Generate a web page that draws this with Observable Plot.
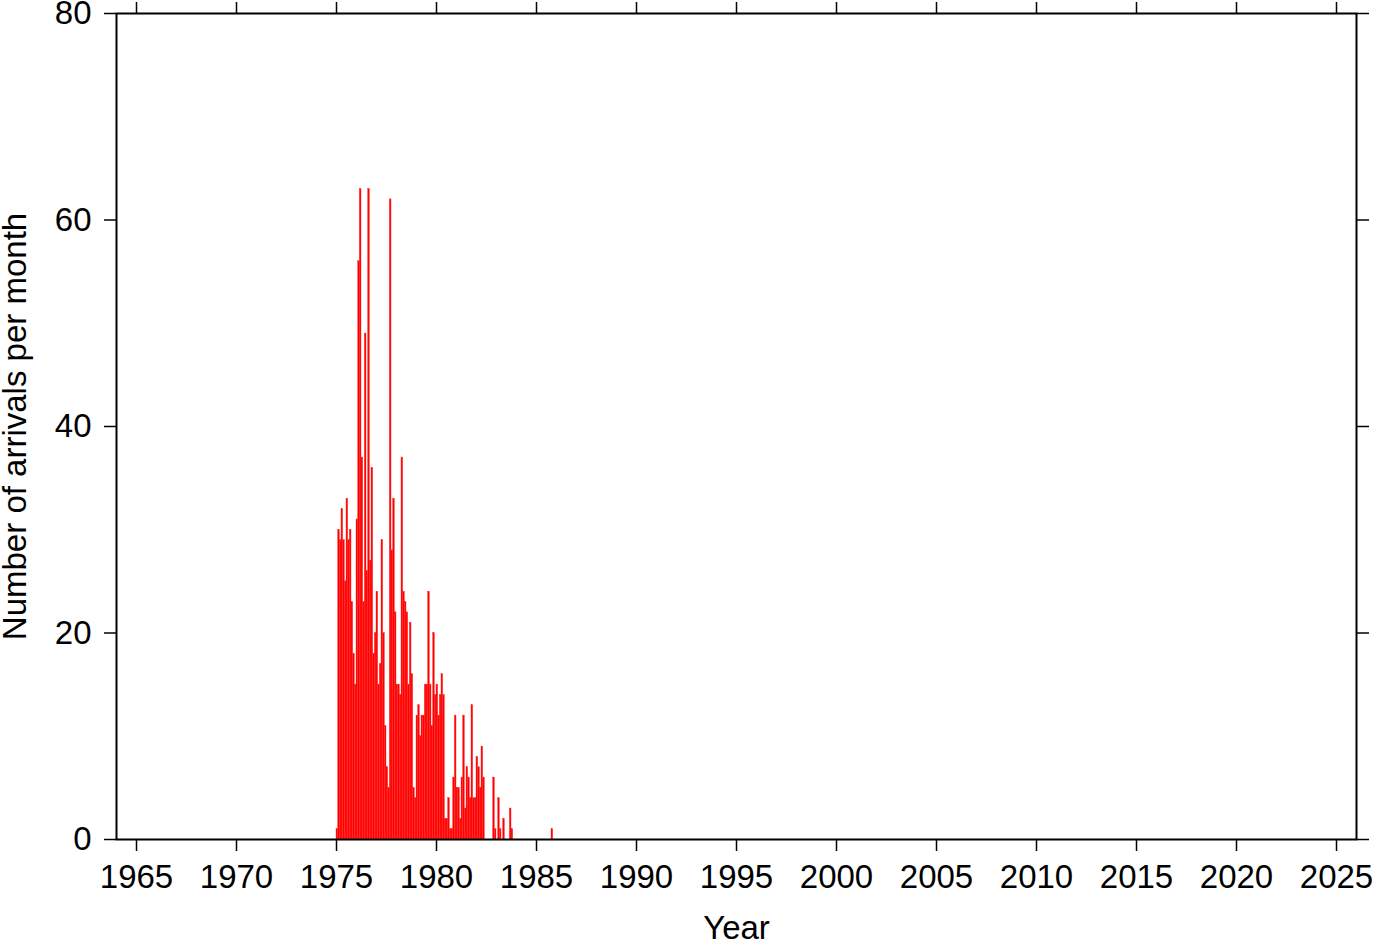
<!DOCTYPE html>
<html>
<head>
<meta charset="utf-8">
<script src="https://cdn.jsdelivr.net/npm/d3@7"></script>
<script src="https://cdn.jsdelivr.net/npm/@observablehq/plot@0.6"></script>
<style>
  html, body { margin: 0; padding: 0; background: white; overflow: hidden; }
</style>
</head>
<body>
<div id="chart"></div>
<script>
// Monthly arrival counts, starting January 1975
const startYear = 1975;
const monthlyCounts = [
  1, 30, 29, 32, 29, 25, 33, 29, 30, 23, 18, 15,   // 1975
  31, 56, 63, 37, 23, 49, 26, 63, 27, 36, 18, 20,  // 1976
  24, 15, 17, 29, 20, 11, 7, 5, 62, 28, 33, 22,    // 1977
  15, 15, 14, 37, 24, 23, 22, 15, 21, 16, 5, 4,    // 1978
  12, 13, 10, 12, 12, 15, 15, 24, 15, 11, 20, 14,  // 1979
  15, 12, 14, 16, 14, 2, 2, 4, 1, 1, 6, 12,        // 1980
  5, 5, 2, 6, 12, 3, 7, 6, 4, 13, 4, 4,            // 1981
  8, 7, 5, 9, 6, 0, 0, 0, 0, 0, 6, 1,              // 1982
  0, 4, 1, 0, 2, 0, 0, 0, 3, 1, 0, 0,              // 1983
  0, 0, 0, 0, 0, 0, 0, 0, 0, 0, 0, 0,              // 1984
  0, 0, 0, 0, 0, 0, 0, 0, 0, 1                     // 1985
];
const xTicks = [1965, 1970, 1975, 1980, 1985, 1990, 1995, 2000, 2005, 2010, 2015, 2020, 2025];
const yTicks = [0, 20, 40, 60, 80];
const xDomain = [1964, 2026];
const yDomain = [0, 80];
const xLabel = "Year";
const yLabel = "Number of arrivals per month";

const bars = monthlyCounts
  .map((n, i) => ({ t0: startYear + i / 12, t1: startYear + (i + 1) / 12, n }))
  .filter(d => d.n > 0);

const font = "'Liberation Sans', Arial, Helvetica, sans-serif";
const fs = 33;

const chart = Plot.plot({
  width: 1382,
  height: 942,
  marginLeft: 116,
  marginRight: 26,
  marginTop: 13,
  marginBottom: 103,
  x: { domain: xDomain },
  y: { domain: yDomain },
  style: { fontFamily: font, fontSize: fs + "px", background: "white", color: "black", overflow: "visible" },
  marks: [
    Plot.rectY(bars, { x1: "t0", x2: "t1", y: "n", fill: "#ff0000", stroke: "#ff2828", strokeWidth: 0.4 }),
    Plot.axisX({ anchor: "bottom", ticks: xTicks, tickSize: 12, tickPadding: 13, tickFormat: d => String(d), label: null, fontSize: fs, strokeWidth: 1.5 }),
    Plot.axisX({ anchor: "top", ticks: xTicks, tickSize: 12, tickFormat: () => "", label: null, strokeWidth: 1.5 }),
    Plot.axisY({ anchor: "left", ticks: yTicks, tickSize: 12, tickPadding: 13, tickFormat: d => String(d), label: null, fontSize: fs, strokeWidth: 1.5 }),
    Plot.axisY({ anchor: "right", ticks: yTicks, tickSize: 12, tickFormat: () => "", label: null, strokeWidth: 1.5 }),
    Plot.frame({ stroke: "black", strokeWidth: 2 }),
    Plot.text([xLabel], { frameAnchor: "bottom", dy: 89, text: d => d, fontSize: fs, textAnchor: "middle", lineAnchor: "middle", fill: "black" }),
    Plot.text([yLabel], { frameAnchor: "left", dx: -101, rotate: -90, text: d => d, fontSize: fs, textAnchor: "middle", lineAnchor: "middle", fill: "black" })
  ]
});
document.getElementById("chart").appendChild(chart);
</script>
</body>
</html>
